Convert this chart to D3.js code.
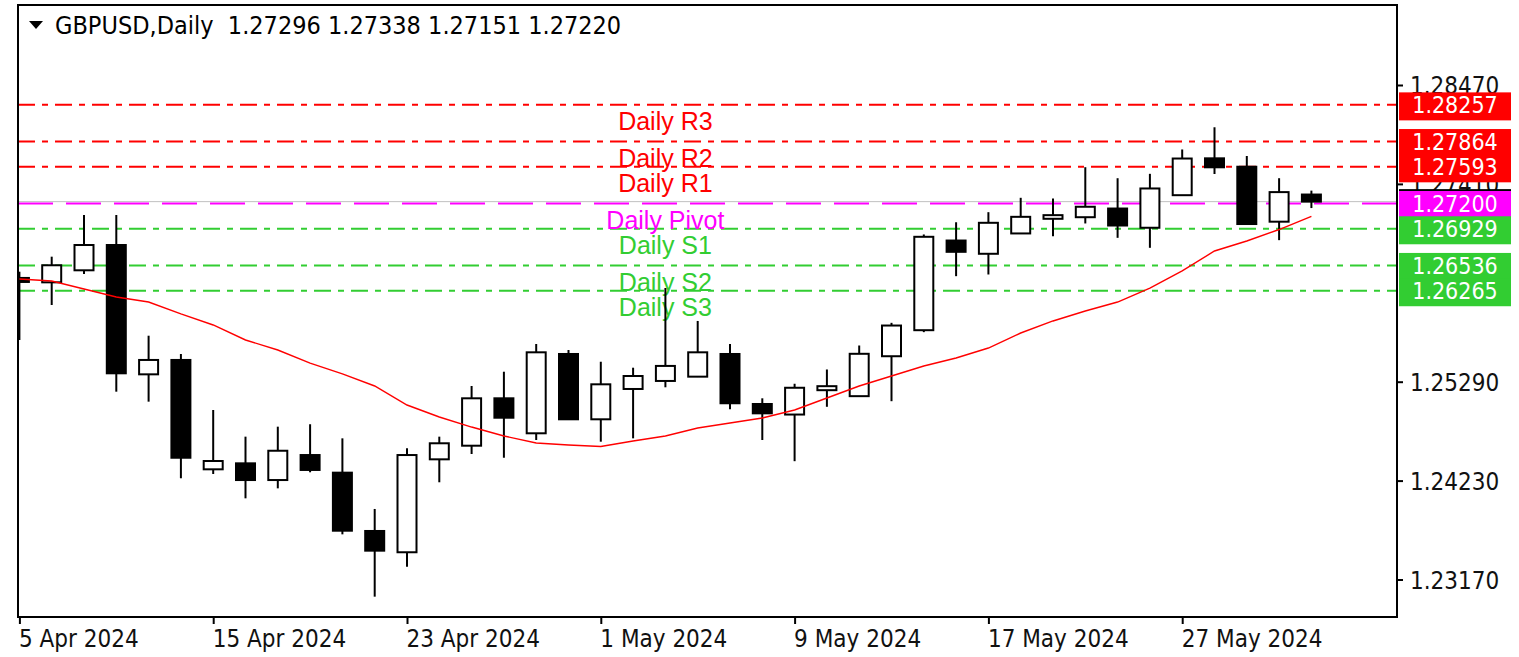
<!DOCTYPE html>
<html>
<head>
<meta charset="utf-8">
<script src="https://cdn.jsdelivr.net/npm/d3@7"></script>
<style>
body { margin: 0; background: #fff; }
svg { display: block; font-family: "DejaVu Sans Condensed", "Liberation Sans", sans-serif; }
</style>
</head>
<body>
<svg id="chart"></svg>
<script>
// daily bars, GBPUSD
const days = ['5 Apr 2024', '8 Apr 2024', '9 Apr 2024', '10 Apr 2024', '11 Apr 2024', '12 Apr 2024',
    '15 Apr 2024', '16 Apr 2024', '17 Apr 2024', '18 Apr 2024', '19 Apr 2024', '22 Apr 2024',
    '23 Apr 2024', '24 Apr 2024', '25 Apr 2024', '26 Apr 2024', '29 Apr 2024', '30 Apr 2024',
    '1 May 2024', '2 May 2024', '3 May 2024', '6 May 2024', '7 May 2024', '8 May 2024',
    '9 May 2024', '10 May 2024', '13 May 2024', '14 May 2024', '15 May 2024', '16 May 2024',
    '17 May 2024', '20 May 2024', '21 May 2024', '22 May 2024', '23 May 2024', '24 May 2024',
    '27 May 2024', '28 May 2024', '29 May 2024', '30 May 2024', '31 May 2024'];
const open = [1.26402, 1.26355, 1.26484, 1.26755, 1.25369, 1.25523, 1.24351, 1.24415, 1.24236, 1.24504,
    1.24315, 1.23690, 1.23462, 1.24458, 1.24604, 1.25112, 1.24737, 1.25587, 1.24887, 1.25212,
    1.25298, 1.25344, 1.25587, 1.25051, 1.24938, 1.25199, 1.25135, 1.25563, 1.25842, 1.26803,
    1.26661, 1.26879, 1.27036, 1.27053, 1.27146, 1.26940, 1.27289, 1.27684, 1.27594, 1.27005, 1.27296];
const high = [1.26469, 1.26630, 1.27077, 1.27077, 1.25783, 1.25587, 1.24987, 1.24701, 1.24808, 1.24834,
    1.24683, 1.23926, 1.24576, 1.24701, 1.25244, 1.25397, 1.25694, 1.25630, 1.25504, 1.25440,
    1.26294, 1.25941, 1.25694, 1.25112, 1.25268, 1.25421, 1.25678, 1.25921, 1.26868, 1.26999,
    1.27107, 1.27261, 1.27254, 1.27589, 1.27471, 1.27518, 1.27779, 1.28017, 1.27709, 1.27471, 1.27338];
const low = [1.25737, 1.26112, 1.26444, 1.25183, 1.25076, 1.24255, 1.24301, 1.24040, 1.24147, 1.24319,
    1.23654, 1.22986, 1.23307, 1.24212, 1.24515, 1.24475, 1.24665, 1.24880, 1.24647, 1.24683,
    1.25230, 1.25340, 1.24994, 1.24665, 1.24438, 1.25021, 1.25135, 1.25081, 1.25821, 1.26421,
    1.26439, 1.26879, 1.26850, 1.26986, 1.26832, 1.26725, 1.27289, 1.27516, 1.26980, 1.26807, 1.27151];
const close = [1.26359, 1.26538, 1.26755, 1.25380, 1.25523, 1.24475, 1.24440, 1.24236, 1.24550, 1.24344,
    1.23693, 1.23479, 1.24504, 1.24630, 1.25112, 1.24904, 1.25605, 1.24887, 1.25262, 1.25351,
    1.25459, 1.25605, 1.25059, 1.24951, 1.25225, 1.25242, 1.25589, 1.25892, 1.26843, 1.26682,
    1.26993, 1.27057, 1.27075, 1.27165, 1.26964, 1.27361, 1.27682, 1.27588, 1.26980, 1.27322, 1.27220];
// moving average (red line)
const ma = [1.26391, 1.26369, 1.26284, 1.26198, 1.26144, 1.26016, 1.25898, 1.25737, 1.25630, 1.25490,
    1.25373, 1.25244, 1.25040, 1.24912, 1.24804, 1.24708, 1.24633, 1.24612, 1.24596, 1.24654,
    1.24708, 1.24794, 1.24847, 1.24901, 1.24987, 1.25115, 1.25244, 1.25351, 1.25458, 1.25544,
    1.25651, 1.25812, 1.25941, 1.26048, 1.26144, 1.26294, 1.26477, 1.26691, 1.26798, 1.26921, 1.27061];

const pivotNames = ['Daily R3', 'Daily R2', 'Daily R1', 'Daily Pivot', 'Daily S1', 'Daily S2', 'Daily S3'];
const pivotValues = [1.28257, 1.27864, 1.27593, 1.27200, 1.26929, 1.26536, 1.26265];
const pivotColors = ['#ff0000', '#ff0000', '#ff0000', '#ff00ff', '#32cd32', '#32cd32', '#32cd32'];

const priceTicks = [1.23170, 1.24230, 1.25290, 1.27410, 1.28470];
const dateTicks = ['5 Apr 2024', '15 Apr 2024', '23 Apr 2024', '1 May 2024', '9 May 2024', '17 May 2024', '27 May 2024'];
const symbol = 'GBPUSD,Daily';
const bid = 1.27220;

class CandleChart {
    constructor (config) {
        this.config = {
            parent: config.parent,
            width: config.width || 1519,
            height: config.height || 657,
            plot: config.plot
        };
        this.init();
    }

    init() {
        let self = this;
        const p = self.config.plot;

        self.svg = d3.select(self.config.parent)
            .attr('width', self.config.width)
            .attr('height', self.config.height);

        self.svg.append('defs').append('clipPath')
            .attr('id', 'plotclip')
            .append('rect')
            .attr('x', p.left).attr('y', p.top)
            .attr('width', p.right - p.left).attr('height', p.bottom - p.top);

        self.xscale = d3.scaleLinear()
            .domain([0, days.length - 1])
            .range([19.4, 19.4 + (days.length - 1) * 32.3]);

        self.yscale = d3.scaleLinear()
            .domain([1.23170, 1.28470])
            .range([579.5, 85]);

        self.xaxis = d3.axisBottom(self.xscale)
            .tickValues(dateTicks.map(d => days.indexOf(d)))
            .tickFormat(i => days[i])
            .tickSize(7)
            .tickSizeOuter(0);

        self.yaxis = d3.axisRight(self.yscale)
            .tickValues(priceTicks)
            .tickFormat(d3.format('.5f'))
            .tickSize(6)
            .tickSizeOuter(0);

        self.chart = self.svg.append('g').attr('clip-path', 'url(#plotclip)');
        self.xaxis_group = self.svg.append('g')
            .attr('transform', `translate(0, ${p.bottom})`);
        self.yaxis_group = self.svg.append('g')
            .attr('transform', `translate(${p.right}, 0)`);
        self.labels = self.svg.append('g');
    }

    render() {
        let self = this;
        const p = self.config.plot;
        const x = self.xscale, y = self.yscale;
        const bars = days.map((d, i) => ({i: i, o: open[i], h: high[i], l: low[i], c: close[i]}));

        // bid line
        self.chart.append('line')
            .attr('x1', p.left).attr('x2', p.right)
            .attr('y1', y(bid)).attr('y2', y(bid))
            .attr('stroke', '#c0c0c0').attr('stroke-width', 1);

        // pivot levels
        self.chart.selectAll('.lvl')
            .data(pivotValues)
            .join('line')
            .attr('class', 'lvl')
            .attr('x1', p.left).attr('x2', p.right)
            .attr('y1', d => y(d)).attr('y2', d => y(d))
            .attr('stroke', (d, i) => pivotColors[i])
            .attr('stroke-width', 2)
            .attr('stroke-dasharray', (d, i) => i == 3 ? '35,13' : '17,7,6,7');

        self.chart.selectAll('.lvltext')
            .data(pivotValues)
            .join('text')
            .attr('class', 'lvltext')
            .attr('x', x(20))
            .attr('y', d => y(d) + 25.5)
            .attr('text-anchor', 'middle')
            .style('font-family', '"Liberation Sans", Arial, sans-serif')
            .style('font-size', '25px')
            .attr('fill', (d, i) => pivotColors[i])
            .text((d, i) => pivotNames[i]);

        // wicks
        self.chart.selectAll('.wick')
            .data(bars)
            .join('line')
            .attr('class', 'wick')
            .attr('x1', d => x(d.i)).attr('x2', d => x(d.i))
            .attr('y1', d => y(d.h)).attr('y2', d => y(d.l))
            .attr('stroke', '#000').attr('stroke-width', 2);

        // bodies
        self.chart.selectAll('.body')
            .data(bars)
            .join('rect')
            .attr('class', 'body')
            .attr('x', d => x(d.i) - 9.5)
            .attr('width', 19)
            .attr('y', d => y(Math.max(d.o, d.c)))
            .attr('height', d => Math.max(1, Math.abs(y(d.o) - y(d.c))))
            .attr('fill', d => d.c < d.o ? '#000' : '#fff')
            .attr('stroke', '#000').attr('stroke-width', 2);

        // moving average
        self.line = d3.line()
            .x((d, i) => x(i))
            .y(d => y(d));
        self.chart.append('path')
            .attr('d', self.line(ma))
            .attr('stroke', '#ff0000')
            .attr('stroke-width', 1.4)
            .attr('fill', 'none');

        // frame
        self.svg.append('rect')
            .attr('x', p.left).attr('y', p.top)
            .attr('width', p.right - p.left).attr('height', p.bottom - p.top)
            .attr('fill', 'none').attr('stroke', '#000').attr('stroke-width', 2);

        // title
        self.svg.append('path')
            .attr('d', 'M29,21 L43,21 L36,29 Z')
            .attr('fill', '#000');
        self.svg.append('text')
            .attr('x', 55).attr('y', 34)
            .style('font-size', '25px')
            .attr('fill', '#000')
            .text(symbol + '\u00a0\u00a0' + [open, high, low, close].map(a => a[a.length - 1].toFixed(5)).join(' '));

        // axes
        self.xaxis_group.call(self.xaxis)
            .attr('font-family', null).attr('font-size', null);
        self.xaxis_group.select('.domain').remove();
        self.xaxis_group.selectAll('line').attr('stroke', '#000').attr('stroke-width', 2);
        self.xaxis_group.selectAll('text')
            .attr('text-anchor', 'start')
            .attr('x', -1).attr('y', 30).attr('dy', 0)
            .style('font-size', '24px')
            .attr('fill', '#111');

        self.yaxis_group.call(self.yaxis)
            .attr('font-family', null).attr('font-size', null);
        self.yaxis_group.select('.domain').remove();
        self.yaxis_group.selectAll('line').attr('stroke', '#000').attr('stroke-width', 2);
        self.yaxis_group.selectAll('text')
            .attr('x', 13).attr('dy', '0.36em')
            .style('font-size', '24px')
            .attr('fill', '#111');

        // price labels on the right scale (bid box sits under the pivot box)
        const bx = p.right + 2, bw = 112;
        self.labels.append('rect')
            .attr('x', bx).attr('width', bw)
            .attr('y', y(bid) - 12.5).attr('height', 28)
            .attr('fill', '#000');

        const lab = self.labels.selectAll('g')
            .data(pivotValues)
            .join('g');
        lab.append('rect')
            .attr('x', bx).attr('width', bw)
            .attr('y', d => y(d) - 12.5).attr('height', 28)
            .attr('fill', (d, i) => pivotColors[i]);
        lab.append('text')
            .attr('x', bx + bw / 2)
            .attr('y', d => y(d)).attr('dy', '0.36em')
            .attr('text-anchor', 'middle')
            .style('font-size', '23px')
            .attr('fill', '#fff')
            .text(d => d.toFixed(5));
    }
}

const chart = new CandleChart({
    parent: '#chart',
    width: 1519,
    height: 657,
    plot: {left: 18, top: 5, right: 1397, bottom: 617}
});
chart.render();
</script>
</body>
</html>
